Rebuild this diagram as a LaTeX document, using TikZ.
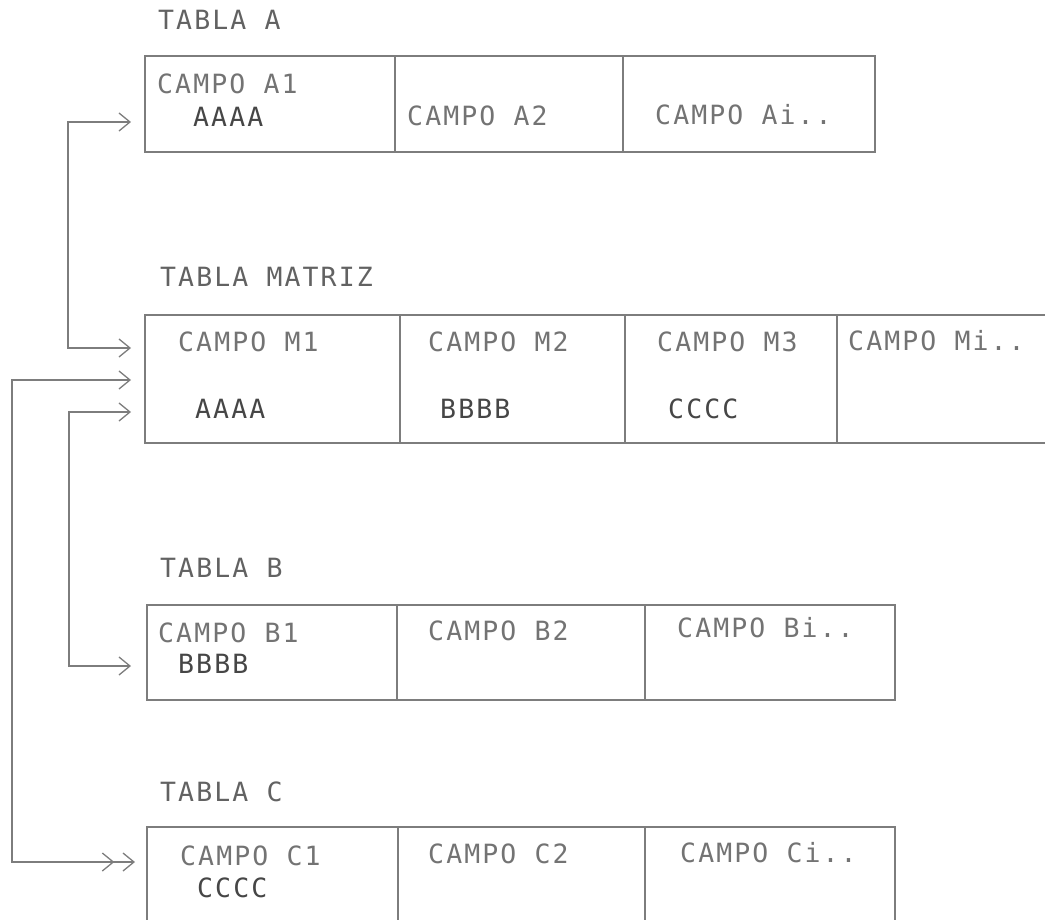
\documentclass[tikz,border=0pt]{standalone}
\usepackage{fontspec}
\usepackage{xcolor}
\usetikzlibrary{arrows.meta,positioning}
\newfontfamily\plotfont[LetterSpace=8]{DejaVu Sans Mono}
\definecolor{linegray}{RGB}{125,125,125}
\definecolor{textgray}{RGB}{115,115,115}
\definecolor{valgray}{RGB}{70,70,70}

\begin{document}
\begin{tikzpicture}[
 x=1pt, y=-1pt,
 node distance=0pt,
 cell/.style={rectangle, draw=linegray, line width=1.3pt, inner sep=0pt, outer sep=0pt},
 fld/.style={anchor=base west, inner sep=0pt, text=textgray, font=\plotfont\fontsize{26.5}{30}\selectfont},
 val/.style={fld, text=valgray},
 title/.style={fld, text=valgray!85},
 chev/.tip={Straight Barb[length=11pt,width=18pt]},
 link/.style={draw=linegray, line width=1.3pt, >=chev, <->}
]
\useasboundingbox (0,0) rectangle (1045,920);

% Tabla A
\node[title] (tita) at (158,30) {TABLA A};
\node[cell, minimum width=250pt, minimum height=96pt, anchor=north west] (a1) at (145,56) {};
\node[cell, minimum width=228pt, minimum height=96pt, right=of a1] (a2) {};
\node[cell, minimum width=252pt, minimum height=96pt, right=of a2] (ai) {};
\node[fld] (a1name) at (157,94) {CAMPO A1};
\node[val] (a1val) at (193,127) {AAAA};
\node[fld] (a2name) at (407,126) {CAMPO A2};
\node[fld] (ainame) at (655,125) {CAMPO Ai..};

% Tabla matriz
\node[title] (titm) at (160,287) {TABLA MATRIZ};
\node[cell, minimum width=255pt, minimum height=128pt, anchor=north west] (m1) at (145,315) {};
\node[cell, minimum width=225pt, minimum height=128pt, right=of m1] (m2) {};
\node[cell, minimum width=212pt, minimum height=128pt, right=of m2] (m3) {};
\node[cell, minimum width=225pt, minimum height=128pt, right=of m3] (mi) {};
\node[fld] (m1name) at (178,352) {CAMPO M1};
\node[fld] (m2name) at (428,352) {CAMPO M2};
\node[fld] (m3name) at (657,352) {CAMPO M3};
\node[fld] (miname) at (848,350) {CAMPO Mi..};
\node[val] (m1val) at (195,418) {AAAA};
\node[val] (m2val) at (440,418) {BBBB};
\node[val] (m3val) at (668,418) {CCCC};

% Tabla B
\node[title] (titb) at (160,577) {TABLA B};
\node[cell, minimum width=250pt, minimum height=95pt, anchor=north west] (b1) at (147,605) {};
\node[cell, minimum width=248pt, minimum height=95pt, right=of b1] (b2) {};
\node[cell, minimum width=250pt, minimum height=95pt, right=of b2] (bi) {};
\node[fld] (b1name) at (158,642) {CAMPO B1};
\node[val] (b1val) at (178,673) {BBBB};
\node[fld] (b2name) at (428,640) {CAMPO B2};
\node[fld] (biname) at (677,637) {CAMPO Bi..};

% Tabla C
\node[title] (titc) at (160,801) {TABLA C};
\node[cell, minimum width=251pt, minimum height=103pt, anchor=north west] (c1) at (147,827) {};
\node[cell, minimum width=247pt, minimum height=103pt, right=of c1] (c2) {};
\node[cell, minimum width=250pt, minimum height=103pt, right=of c2] (ci) {};
\node[fld] (c1name) at (180,865) {CAMPO C1};
\node[val] (c1val) at (197,897) {CCCC};
\node[fld] (c2name) at (428,863) {CAMPO C2};
\node[fld] (ciname) at (680,862) {CAMPO Ci..};

% Puntos de llegada
\coordinate (a1in) at (131,122);
\coordinate (m1in) at (131,348);
\coordinate (m2in) at (131,380);
\coordinate (m3in) at (131,412);
\coordinate (b1in) at (131,666);
\coordinate (c1in) at (135,862);

% Relaciones
\draw[link] (a1in) -- ++(-63,0) |- (m1in);
\draw[link] (m3in) -- ++(-62,0) |- (b1in);
\draw[link, {chev}-{chev[sep=8pt]chev}] (m2in) -- ++(-119,0) |- (c1in);
\end{tikzpicture}
\end{document}
